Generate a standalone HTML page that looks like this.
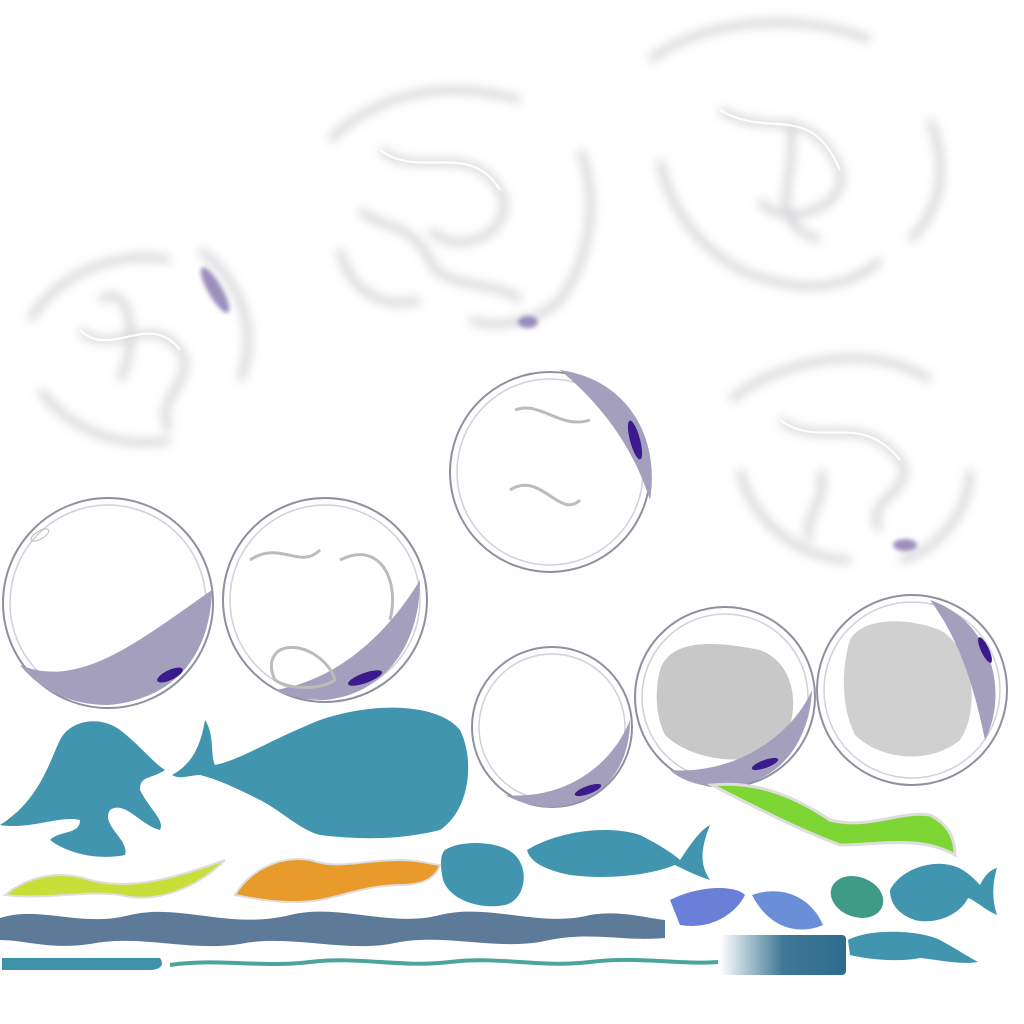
<!DOCTYPE html>
<html><head><meta charset="utf-8"><style>
html,body{margin:0;padding:0;background:#fff;width:1024px;height:1024px;overflow:hidden}
svg{display:block}
</style></head><body>
<svg width="1024" height="1024" viewBox="0 0 1024 1024">
<defs>
<filter id="blur" x="-20%" y="-20%" width="140%" height="140%"><feGaussianBlur stdDeviation="5"/></filter>
<filter id="blur2"><feGaussianBlur stdDeviation="2"/></filter>
<linearGradient id="grad" x1="0" x2="1"><stop offset="0" stop-color="#fff"/><stop offset="0.5" stop-color="#3f7896"/><stop offset="1" stop-color="#2e6b8e"/></linearGradient>
</defs>

<!-- foam clouds -->
<g filter="url(#blur)" fill="none" stroke="#c8c8cc" stroke-width="7" opacity="0.8">
<path d="M330,140 C380,90 450,80 520,100"/>
<path d="M580,150 C600,200 590,260 560,300 C540,320 500,330 470,320"/>
<path d="M340,250 C350,290 380,310 420,300"/>
<path d="M380,150 C420,180 470,140 500,190 C520,230 460,260 430,230"/>
<path d="M360,210 C380,230 410,220 430,260 C440,290 500,280 520,300"/>
<path d="M650,60 C700,20 800,10 870,40"/>
<path d="M930,120 C950,170 940,210 910,240"/>
<path d="M660,160 C670,220 720,270 770,280 C820,295 860,280 880,260"/>
<path d="M720,110 C770,140 810,100 840,170 C850,210 780,230 760,200"/>
<path d="M790,120 C800,180 760,220 820,240"/>
<path d="M30,320 C60,270 120,250 170,260"/>
<path d="M200,250 C240,280 260,330 240,380"/>
<path d="M40,390 C70,430 120,450 170,440"/>
<path d="M80,330 C110,360 150,310 180,350 C200,380 150,400 170,430"/>
<path d="M100,300 C130,280 140,340 120,380"/>
<path d="M730,400 C780,360 870,340 930,380"/>
<path d="M970,470 C970,510 940,550 900,560"/>
<path d="M740,470 C750,520 800,560 850,560"/>
<path d="M780,420 C820,450 860,410 900,460 C920,490 860,500 880,530"/>
<path d="M820,470 C830,500 800,520 810,540"/>
</g>
<g fill="none" stroke="#fff" stroke-width="2">
<path d="M380,150 C420,180 470,140 500,190"/>
<path d="M720,110 C770,140 810,100 840,170"/>
<path d="M80,330 C110,360 150,310 180,350"/>
<path d="M780,420 C820,450 860,410 900,460"/>
</g>
<g filter="url(#blur2)" fill="#8a7ab0" opacity="0.85">
<ellipse cx="215" cy="290" rx="7" ry="26" transform="rotate(-30 215 290)"/>
<ellipse cx="528" cy="322" rx="10" ry="6"/>
<ellipse cx="905" cy="545" rx="12" ry="6"/>
</g>

<!-- bubbles -->
<g>
<circle cx="108" cy="603" r="105" fill="#fff" stroke="#8f8fa0" stroke-width="2"/>
<circle cx="108" cy="603" r="98" fill="none" stroke="#d0d0d8" stroke-width="1.5"/>
<path d="M212,590 C210,660 170,700 108,705 C70,705 40,690 20,665 C80,690 140,640 212,590 Z" fill="#a49fbc"/>
<ellipse cx="170" cy="675" rx="14" ry="5" fill="#3a1a8c" transform="rotate(-25 170 675)"/>
<ellipse cx="40" cy="535" rx="10" ry="4" fill="none" stroke="#bbb" transform="rotate(-30 40 535)"/>
</g>
<g>
<circle cx="325" cy="600" r="102" fill="#fff" stroke="#8f8fa0" stroke-width="2"/>
<circle cx="325" cy="600" r="95" fill="none" stroke="#d0d0d8" stroke-width="1.5"/>
<path d="M420,580 C420,650 380,695 325,700 C300,700 285,695 275,690 C340,680 390,630 420,580 Z" fill="#a49fbc"/>
<ellipse cx="365" cy="678" rx="18" ry="5" fill="#3a1a8c" transform="rotate(-20 365 678)"/>
<path d="M250,560 C280,540 300,570 320,550 M340,560 C380,540 400,580 390,620 M280,650 C300,640 330,660 335,680 C320,690 290,690 275,680 C268,665 272,655 280,650 Z" fill="none" stroke="#bbb" stroke-width="3"/>
</g>
<g>
<circle cx="550" cy="472" r="100" fill="#fff" stroke="#8f8fa0" stroke-width="2"/>
<circle cx="550" cy="472" r="93" fill="none" stroke="#d0d0d8" stroke-width="1.5"/>
<path d="M560,370 C630,380 660,440 650,500 C640,470 620,420 560,370 Z" fill="#a49fbc"/>
<ellipse cx="635" cy="440" rx="5" ry="20" fill="#3a1a8c" transform="rotate(-15 635 440)"/>
<path d="M515,410 C540,400 560,430 590,420 M510,490 C540,470 560,520 580,500" fill="none" stroke="#bbb" stroke-width="3"/>
</g>
<g>
<circle cx="552" cy="727" r="80" fill="#fff" stroke="#8f8fa0" stroke-width="2"/>
<circle cx="552" cy="727" r="73" fill="none" stroke="#d0d0d8" stroke-width="1.5"/>
<path d="M630,720 C630,770 600,805 552,807 C530,807 515,800 505,795 C560,800 610,770 630,720 Z" fill="#a49fbc"/>
<ellipse cx="588" cy="790" rx="14" ry="4" fill="#3a1a8c" transform="rotate(-20 588 790)"/>
</g>
<g>
<circle cx="725" cy="697" r="90" fill="#fff" stroke="#8f8fa0" stroke-width="2"/>
<circle cx="725" cy="697" r="83" fill="none" stroke="#d0d0d8" stroke-width="1.5"/>
<path d="M660,670 C670,640 710,640 760,650 C800,665 800,720 780,745 C750,770 690,760 665,735 C655,715 655,690 660,670 Z" fill="#c8c8c8"/>
<path d="M812,690 C810,740 780,785 725,787 C700,787 680,780 670,770 C730,775 790,740 812,690 Z" fill="#a49fbc"/>
<ellipse cx="765" cy="764" rx="14" ry="4" fill="#3a1a8c" transform="rotate(-20 765 764)"/>
</g>
<g>
<circle cx="912" cy="690" r="95" fill="#fff" stroke="#8f8fa0" stroke-width="2"/>
<circle cx="912" cy="690" r="88" fill="none" stroke="#d0d0d8" stroke-width="1.5"/>
<path d="M850,640 C860,620 900,615 940,630 C975,650 980,710 960,740 C930,765 880,760 855,735 C840,705 842,665 850,640 Z" fill="#d0d0d0"/>
<path d="M930,600 C990,620 1010,690 985,740 C975,690 960,640 930,600 Z" fill="#a49fbc"/>
<ellipse cx="985" cy="650" rx="4" ry="14" fill="#3a1a8c" transform="rotate(-25 985 650)"/>
</g>

<!-- teal creatures -->
<g fill="#4195ae">
<path d="M0,825 C40,800 50,760 60,740 C70,720 100,715 120,730 C140,745 150,760 165,770 C150,780 140,775 140,790 C150,810 165,820 160,830 C140,825 125,800 110,810 C100,825 130,840 125,855 C100,860 70,855 50,840 C60,830 80,835 80,820 C60,815 30,830 0,825 Z"/>
<path d="M172,775 C190,765 200,750 205,720 C215,735 210,755 215,765 C240,760 270,740 320,720 C380,700 440,705 460,730 C475,760 470,810 440,830 C400,840 360,840 320,835 C300,830 280,810 260,800 C240,790 220,780 200,775 C190,775 180,780 172,775 Z"/>
<path d="M445,850 C460,840 500,840 515,855 C530,870 525,900 505,905 C480,910 450,900 443,880 C440,865 440,855 445,850 Z"/>
<path d="M527,850 C560,830 610,825 640,835 C660,845 675,855 680,860 C690,845 700,830 710,825 C700,850 700,865 710,880 C695,875 685,870 675,865 C650,875 610,880 570,875 C545,870 530,862 527,850 Z"/>
<path d="M890,890 C900,870 930,860 950,865 C965,868 975,880 980,885 C985,875 990,870 997,868 C992,885 992,900 997,915 C985,910 975,900 968,898 C960,915 935,925 915,920 C900,915 890,905 890,890 Z"/>
<path d="M848,940 C870,928 920,930 940,940 C955,948 965,955 978,962 C960,965 940,960 920,958 C900,962 870,960 850,955 Z"/>
</g>
<g>
<path d="M670,900 C700,885 735,885 745,895 C735,915 710,930 680,925 Z" fill="#6a7fd8"/>
<path d="M752,895 C780,885 810,895 823,925 C800,935 770,930 752,895 Z" fill="#6a8fd8"/>
<ellipse cx="857" cy="897" rx="27" ry="20" fill="#3f9a88" transform="rotate(20 857 897)"/>
</g>

<!-- leaves -->
<path d="M712,785 C760,780 800,800 830,820 C870,830 900,810 930,815 C950,825 955,840 955,855 C920,835 880,845 840,845 C800,830 760,810 712,785 Z" fill="#7ed634" stroke="#ddd" stroke-width="3"/>
<path d="M5,895 C30,875 60,870 90,880 C130,890 170,880 225,860 C200,885 160,905 120,895 C80,890 50,900 5,895 Z" fill="#c8df3a" stroke="#ddd" stroke-width="2"/>
<path d="M235,895 C250,870 280,855 310,860 C340,870 360,860 400,860 C420,860 435,865 440,865 C435,880 420,885 400,885 C370,885 345,895 320,900 C290,905 260,900 235,895 Z" fill="#e89a2a" stroke="#ddd" stroke-width="2"/>

<!-- bands -->
<path d="M0,918 C40,905 80,928 130,915 C180,903 230,930 290,915 C340,903 390,928 440,915 C490,903 540,928 590,915 C620,910 645,918 665,920 L665,938 C620,942 590,930 540,942 C490,950 440,932 390,944 C340,952 290,934 240,944 C190,952 140,934 90,944 C50,950 25,940 0,940 Z" fill="#5d7a98"/>
<path d="M2,958 L160,958 C165,965 160,970 150,970 L2,970 Z" fill="#3f92aa"/>
<path d="M170,965 C220,958 260,968 310,962 C360,956 400,968 450,962 C500,956 540,968 590,962 C640,956 680,965 718,962" fill="none" stroke="#4ba59a" stroke-width="4"/>
<rect x="720" y="935" width="126" height="40" rx="4" fill="url(#grad)"/>
</svg>
</body></html>
